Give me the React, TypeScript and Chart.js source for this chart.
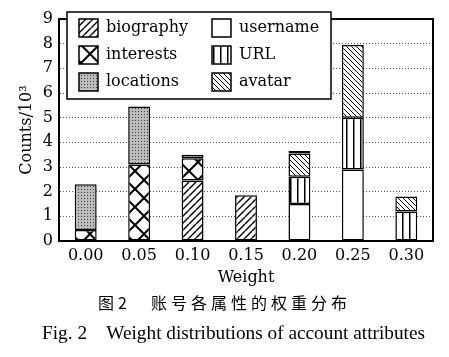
import React, { useEffect, useRef } from "react";
import { Chart, registerables } from "chart.js";

Chart.register(...registerables);

// ---- data ----
const categories = ["0.00", "0.05", "0.10", "0.15", "0.20", "0.25", "0.30"];
const usernameCounts = [null, null, null, null, 1.5, 2.9, null];
const biographyCounts = [null, null, 2.45, 1.85, null, null, null];
const urlCounts = [null, null, null, null, 1.1, 2.1, 1.2];
const interestsCounts = [0.45, 3.1, 0.9, null, null, null, null];
const avatarCounts = [null, null, null, null, 0.95, 2.95, 0.6];
const locationsCounts = [1.85, 2.35, 0.15, null, 0.1, null, null];
const yMin = 0;
const yMax = 9;
const legendOrder = ["biography", "interests", "locations", "username", "URL", "avatar"];
const xTitle = "Weight";
const yTitle = "Counts/10³";
const captionZh = "图2　账号各属性的权重分布";
const captionEn = "Fig. 2\u00a0\u00a0\u00a0\u00a0Weight distributions of account attributes";

const SERIF = "'DejaVu Serif', serif";

function makePattern(kind: string): CanvasPattern | string {
  const c = document.createElement("canvas");
  const ctx = c.getContext("2d")!;
  if (kind === "username") return "#ffffff";
  if (kind === "biography") {
    const s = 7;
    c.width = s; c.height = s;
    ctx.fillStyle = "#fff"; ctx.fillRect(0, 0, s, s);
    ctx.strokeStyle = "#000"; ctx.lineWidth = 1.4;
    for (const k of [-s, 0, s]) { ctx.beginPath(); ctx.moveTo(k, s); ctx.lineTo(k + s, 0); ctx.stroke(); }
  } else if (kind === "avatar") {
    const s = 5;
    c.width = s; c.height = s;
    ctx.fillStyle = "#fff"; ctx.fillRect(0, 0, s, s);
    ctx.strokeStyle = "#000"; ctx.lineWidth = 1;
    for (const k of [-s, 0, s]) { ctx.beginPath(); ctx.moveTo(k, 0); ctx.lineTo(k + s, s); ctx.stroke(); }
  } else if (kind === "URL") {
    c.width = 7; c.height = 4;
    ctx.fillStyle = "#fff"; ctx.fillRect(0, 0, 7, 4);
    ctx.fillStyle = "#000"; ctx.fillRect(3, 0, 1.5, 4);
  } else if (kind === "interests") {
    const s = 18;
    c.width = s; c.height = s;
    ctx.fillStyle = "#fff"; ctx.fillRect(0, 0, s, s);
    ctx.strokeStyle = "#000"; ctx.lineWidth = 2;
    for (const k of [-s, 0, s]) {
      ctx.beginPath(); ctx.moveTo(k, s); ctx.lineTo(k + s, 0); ctx.stroke();
      ctx.beginPath(); ctx.moveTo(k, 0); ctx.lineTo(k + s, s); ctx.stroke();
    }
  } else if (kind === "locations") {
    c.width = 3; c.height = 3;
    ctx.fillStyle = "#bcbcbc"; ctx.fillRect(0, 0, 3, 3);
    ctx.fillStyle = "#404040"; ctx.fillRect(0, 0, 1, 1);
  }
  return ctx.createPattern(c, "repeat")!;
}

const frameAndLegend = {
  id: "frameAndLegend",
  afterDatasetsDraw(chart: any) {
    const { ctx, chartArea } = chart;
    ctx.save();
    ctx.strokeStyle = "#000";
    ctx.lineWidth = 2;
    ctx.strokeRect(chartArea.left, chartArea.top, chartArea.right - chartArea.left, chartArea.bottom - chartArea.top);
    ctx.restore();
  },
  afterDraw(chart: any) {
    const { ctx } = chart;
    const boxX = 67, boxY = 12, boxW = 264, boxH = 87;
    ctx.save();
    ctx.fillStyle = "#fff";
    ctx.fillRect(boxX, boxY, boxW, boxH);
    ctx.strokeStyle = "#000";
    ctx.lineWidth = 1.5;
    ctx.strokeRect(boxX, boxY, boxW, boxH);
    ctx.font = `16px ${SERIF}`;
    ctx.textBaseline = "middle";
    ctx.textAlign = "left";
    legendOrder.forEach((name, i) => {
      const ds = chart.data.datasets.find((d: any) => d.label === name);
      const col = Math.floor(i / 3);
      const row = i % 3;
      const sx = col === 0 ? 79 : 212;
      const sy = 19 + row * 27;
      ctx.fillStyle = ds.backgroundColor;
      ctx.fillRect(sx, sy, 19, 18);
      ctx.lineWidth = 1.5;
      ctx.strokeStyle = "#000";
      ctx.strokeRect(sx, sy, 19, 18);
      ctx.fillStyle = "#000";
      ctx.fillText(name, sx + 27, sy + 9);
    });
    ctx.restore();
  },
};

export default function App() {
  const ref = useRef<HTMLCanvasElement>(null);
  useEffect(() => {
    const series: [string, (number | null)[]][] = [
      ["username", usernameCounts],
      ["biography", biographyCounts],
      ["URL", urlCounts],
      ["interests", interestsCounts],
      ["avatar", avatarCounts],
      ["locations", locationsCounts],
    ];
    const chart = new Chart(ref.current!, {
      type: "bar",
      data: {
        labels: categories,
        datasets: series.map(([label, data]) => ({
          label,
          data,
          backgroundColor: makePattern(label) as any,
          borderColor: "#000",
          borderWidth: 1.5,
          borderSkipped: false,
          barPercentage: 0.41,
          categoryPercentage: 1,
        })),
      },
      options: {
        animation: false,
        responsive: false,
        layout: { padding: { left: 0, right: 16, top: 19, bottom: 70 } },
        plugins: { legend: { display: false }, tooltip: { enabled: false } },
        scales: {
          x: {
            stacked: true,
            grid: { display: false, drawTicks: false },
            border: { display: true, color: "#000", width: 2 },
            ticks: { color: "#000", font: { family: SERIF, size: 16 }, padding: 5 },
            title: { display: true, text: xTitle, color: "#000", font: { family: SERIF, size: 16 }, padding: { top: 0, bottom: 0 } },
            afterFit: (s: any) => { s.height = 46; },
          },
          y: {
            stacked: true,
            min: yMin,
            max: yMax,
            ticks: { stepSize: 1, color: "#000", font: { family: SERIF, size: 16 }, padding: 6 },
            grid: { color: "#555", lineWidth: 1, drawTicks: false },
            border: { display: true, color: "#000", width: 2, dash: [1, 2] },
            title: { display: true, text: yTitle, color: "#000", font: { family: SERIF, size: 16 }, padding: { top: 17, bottom: 0 } },
            afterFit: (s: any) => { s.width = 59; },
          },
        },
      },
      plugins: [frameAndLegend],
    });
    return () => chart.destroy();
  }, []);

  return (
    <div style={{ position: "fixed", left: 0, top: 0, width: 449, height: 357, background: "#fff", overflow: "hidden" }}>
      <canvas ref={ref} width={449} height={357} style={{ display: "block", position: "absolute", left: 0, top: 0 }} />
      <div style={{ position: "absolute", left: 0, width: 449, top: 291, textAlign: "center", fontFamily: "'Noto Sans CJK SC', sans-serif", fontSize: 16, letterSpacing: 4, lineHeight: "22px", color: "#000", paddingLeft: 0, whiteSpace: "nowrap" }}>
        {captionZh}
      </div>
      <div style={{ position: "absolute", left: 0, width: 449, top: 320, textAlign: "center", fontFamily: "'Liberation Serif', serif", fontSize: 19.3, lineHeight: "25px", color: "#000", whiteSpace: "nowrap", paddingLeft: 9 }}>
        {captionEn}
      </div>
    </div>
  );
}
